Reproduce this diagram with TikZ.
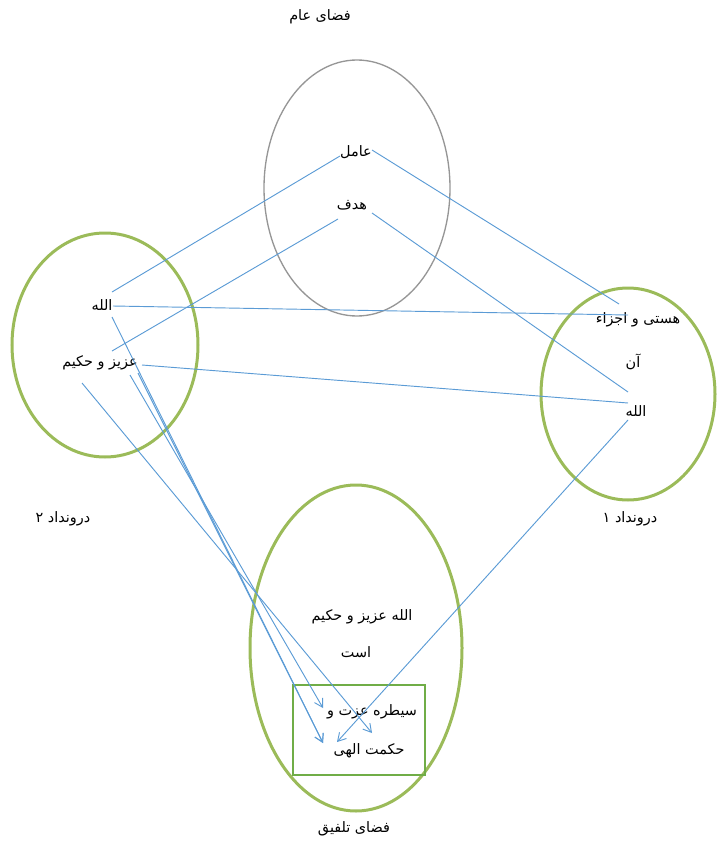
\documentclass[tikz,border=0pt]{standalone}
\usepackage{fontspec}
\usetikzlibrary{arrows.meta}
\newfontfamily\arabicfont[Script=Arabic]{DejaVu Sans}
\TeXXeTstate=1
\newcommand{\fatext}[1]{{\arabicfont\fontsize{10.8}{12}\selectfont\beginR #1\endR}}

\definecolor{linkblue}{RGB}{91,155,213}
\definecolor{setgreen}{RGB}{155,187,89}
\definecolor{boxgreen}{RGB}{112,173,71}
\definecolor{setgray}{RGB}{150,150,150}

\tikzset{every picture/.style={line width=0.75pt}}
\tikzset{
  label/.style={inner sep=0.75pt},
  link/.style={draw=linkblue, line width=0.7pt},
  flow/.style={link, -{Straight Barb[length=6pt,width=7pt]}},
  inset/.style={draw=setgreen, line width=2.25pt},
}

\begin{document}
\begin{tikzpicture}[x=0.75pt,y=0.75pt,yscale=-1,xscale=1]
\useasboundingbox (0,0) rectangle (717,842);

%Shape: Ellipse (general space)
\draw [draw=setgray, line width=1pt] (357,188) ellipse (93 and 128);
%Shape: Ellipse (input 2)
\draw [inset] (105,345) ellipse (93 and 112);
%Shape: Ellipse (input 1)
\draw [inset] (628,394) ellipse (87 and 106);
%Shape: Ellipse (blend)
\draw [inset] (356,648) ellipse (106 and 163);
%Shape: Rectangle
\draw [draw=boxgreen, line width=1.1pt] (293,685) rectangle (425,775);

% Text Node
\node [label] (general) at (320,17) {\fatext{فضای عام}};
\node [label] (agent) at (356,152) {\fatext{عامل}};
\node [label] (goal) at (352,205) {\fatext{هدف}};
\node [label] (allahL) at (102,305) {\fatext{الله}};
\node [label] (wiseL) at (100,363) {\fatext{عزیز و حکیم}};
\node [label] (being) at (638,320) {\fatext{هستی و اجزاء}};
\node [label] (beingb) at (633,362) {\fatext{آن}};
\node [label] (allahR) at (636,411) {\fatext{الله}};
\node [label] (inputB) at (63,519) {\fatext{درونداد ۲}};
\node [label] (inputA) at (630,519) {\fatext{درونداد ۱}};
\node [label] (blendA) at (362,617) {\fatext{الله عزیز و حکیم}};
\node [label] (blendB) at (356,652) {\fatext{است}};
\node [label] (emerA) at (372,712) {\fatext{سیطره عزت و}};
\node [label] (emerB) at (369,751) {\fatext{حکمت الهی}};
\node [label] (blend) at (354,829) {\fatext{فضای تلفیق}};

% Link ends
\coordinate (agentW) at (340,156);
\coordinate (agentE) at (372,150);
\coordinate (goalW) at (338,219);
\coordinate (goalE) at (372,213);
\coordinate (allahLa) at (112,292);
\coordinate (allahLb) at (113,306);
\coordinate (allahLc) at (112,317);
\coordinate (wiseLa) at (112,351);
\coordinate (wiseLb) at (142,365);
\coordinate (wiseLc) at (130,375);
\coordinate (wiseLd) at (138,373);
\coordinate (wiseLe) at (82,383);
\coordinate (beingN) at (619,304);
\coordinate (beingW) at (628,315);
\coordinate (allahRa) at (628,392);
\coordinate (allahRb) at (628,403);
\coordinate (allahRc) at (628,420);
\coordinate (tipA) at (323,708);
\coordinate (tipB) at (323,743);
\coordinate (tipC) at (372,733);
\coordinate (tipD) at (337,742);

%Straight Lines
\draw [link] (allahLa) -- (agentW);
\draw [link] (agentE) -- (beingN);
\draw [link] (goalW) -- (wiseLa);
\draw [link] (goalE) -- (allahRa);
\draw [link] (allahLb) -- (beingW);
\draw [link] (wiseLb) -- (allahRb);
\draw [flow] (wiseLe) -- (tipC);
\draw [flow] (allahLc) -- (tipB);
\draw [flow] (wiseLd) -- (tipB);
\draw [flow] (wiseLc) -- (tipA);
\draw [flow] (allahRc) -- (tipD);

\end{tikzpicture}
\end{document}
